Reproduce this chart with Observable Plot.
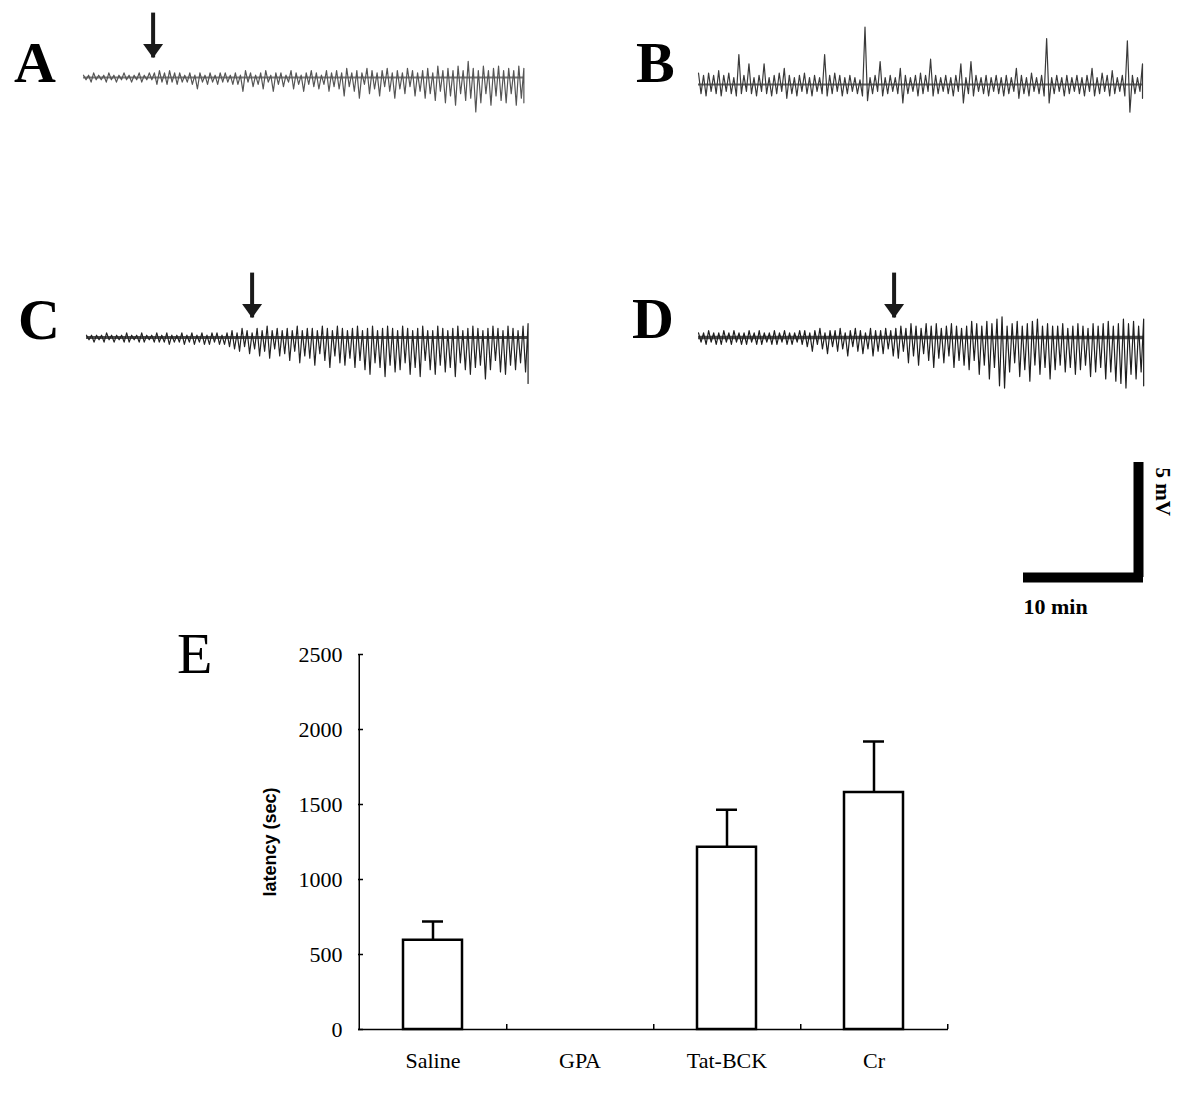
<!DOCTYPE html>
<html><head><meta charset="utf-8">
<script src="https://cdn.jsdelivr.net/npm/d3@7"></script>
<script src="https://cdn.jsdelivr.net/npm/@observablehq/plot@0.6"></script>
<style>
body{margin:0;background:#fff;}
#fig{position:relative;width:1200px;height:1102px;background:#fff;overflow:hidden;}
.panel{position:absolute;}
</style></head><body><div id="fig"></div>
<script>
// ---------- DATA ----------
// EEG traces: upward / downward deflection (mV) of successive oscillations
const traceA_up = [0.1,0.1,0.2,0.1,0.1,0.2,0.1,0.1,0.2,0.1,0.1,0.2,0.1,0.2,
 0.2,0.3,0.2,0.3,0.2,0.2,
 0.1,0.2,0.1,0.2,0.1,0.2,0.1,0.2,0.2,0.1,
 0.2,0.1,0.3,0.2,0.1,0.2,0.3,0.1,0.2,0.2,0.1,0.3,0.2,0.1,0.2,0.3,0.2,0.1,0.3,0.2,
 0.3,0.2,0.4,0.2,0.3,0.2,0.4,0.3,0.2,0.3,0.4,0.2,0.3,0.2,0.4,0.3,0.2,0.3,
 0.4,0.2,0.5,0.3,0.4,0.3,0.5,0.3,0.7,0.4,0.3,0.5,0.3,0.4,0.5,0.3,0.4,0.3,0.5,0.4];
const traceA_down = [0.1,0.2,0.1,0.1,0.2,0.1,0.2,0.1,0.1,0.2,0.1,0.2,0.1,0.1,
 0.3,0.2,0.3,0.2,0.3,0.2,
 0.2,0.3,0.5,0.2,0.3,0.2,0.3,0.2,0.2,0.3,
 0.3,0.6,0.2,0.4,0.3,0.5,0.2,0.6,0.3,0.4,0.2,0.5,0.3,0.6,0.3,0.4,0.5,0.3,0.6,0.4,
 0.5,0.8,0.4,0.6,0.9,0.3,0.7,0.5,0.8,0.4,0.6,0.9,0.5,0.7,0.4,0.8,0.6,0.9,
 0.7,1.0,0.6,1.1,0.8,1.2,0.7,1.0,0.9,1.5,1.1,0.7,1.2,0.8,1.0,1.1,0.7,1.2,0.9,1.1];

const traceB_up = [0.5,0.4,0.5,0.4,0.6,0.4,0.5,0.3,1.3,0.4,
 0.9,0.3,0.4,0.9,0.3,0.4,0.5,0.7,0.4,0.3,
 0.4,0.5,0.3,0.4,0.3,1.3,0.4,0.5,0.4,0.3,
 0.4,0.3,0.2,2.5,0.3,0.4,1.0,0.3,0.4,0.3,
 0.7,0.4,0.3,0.4,0.5,0.4,1.1,0.4,0.3,0.4,
 0.3,0.4,0.9,0.3,1.0,0.4,0.3,0.4,0.3,0.4,
 0.3,0.4,0.3,0.7,0.4,0.3,0.5,0.3,0.4,2.0,
 0.3,0.4,0.3,0.4,0.3,0.4,0.3,0.4,0.7,0.3,
 0.5,0.4,0.6,0.3,0.4,1.9,0.4,0.3,0.9];
const traceB_down = [0.4,0.5,0.3,0.4,0.5,0.3,0.4,0.5,0.4,0.3,
 0.4,0.5,0.3,0.4,0.5,0.4,0.3,0.6,0.4,0.5,
 0.3,0.4,0.5,0.3,0.4,0.5,0.4,0.3,0.5,0.4,
 0.3,0.4,0.5,0.7,0.4,0.3,0.5,0.4,0.3,0.4,
 0.8,0.4,0.3,0.5,0.4,0.3,0.5,0.4,0.3,0.4,
 0.5,0.3,0.8,0.4,0.5,0.3,0.4,0.5,0.3,0.4,
 0.5,0.4,0.3,0.6,0.4,0.5,0.3,0.4,0.5,0.8,
 0.4,0.3,0.5,0.4,0.3,0.4,0.5,0.3,0.5,0.4,
 0.3,0.5,0.4,0.3,0.5,1.2,0.4,0.3,0.6];

const traceC_up = [0.1,0.1,0.1,0.1,0.2,0.1,0.1,0.1,0.2,0.1,0.1,0.2,0.1,0.1,0.2,0.1,0.2,0.1,0.1,0.2,0.1,0.2,0.1,0.2,0.1,0.2,0.2,0.1,0.2,
 0.3,0.2,0.4,0.3,0.2,0.4,0.3,0.5,0.3,0.4,
 0.3,0.4,0.3,0.5,0.3,0.4,0.4,0.3,0.5,0.4, 0.3,0.5,0.4,0.3,0.4,0.5,0.3,0.4,0.5,0.3,
 0.4,0.5,0.4,0.3,0.5,0.4,0.3,0.4,0.5,0.3, 0.3,0.5,0.4,0.3,0.4,0.5,0.3,0.4,0.5,0.4,
 0.3,0.4,0.5,0.4,0.3,0.5,0.4,0.3,0.5,0.6];
const traceC_down = [0.1,0.2,0.1,0.2,0.1,0.2,0.1,0.2,0.2,0.1,0.2,0.2,0.1,0.2,0.2,0.2,0.3,0.2,0.2,0.3,0.2,0.3,0.2,0.3,0.3,0.2,0.3,0.3,0.4,
 0.5,0.6,0.4,0.7,0.5,0.8,0.6,0.9,0.5,0.8,
 0.7,1.0,0.6,1.1,0.8,0.9,1.2,0.7,1.0,1.3,0.8,1.1,1.2,0.9,
 1.3,1.0,1.4,1.6,1.1,1.3,1.7,1.2,1.5,1.4,1.1,1.6,1.3,1.7,1.0,1.4,1.6,1.2,1.5,1.3,1.7,1.1,1.4,1.6,1.3,1.2,1.8,1.4,1.0,1.5,1.6,1.2,1.4,1.1,1.5,2.0];

const traceD_up = [0.2,0.2,0.3,0.2,0.2,0.3,0.2,0.3,0.2,0.2,0.3,0.2,0.3,0.2,0.2,0.3,0.2,0.3,0.2,0.2,0.3,
 0.3,0.2,0.3,0.4,0.2,0.3,0.3,0.4,0.2,0.3,0.4,0.3,0.2,0.4,0.3,0.3,0.4,0.3,
 0.4,0.5,0.4,0.6,0.5,0.4,0.6,0.5,0.6,0.4,0.5,0.6,0.5,0.4,
 0.5,0.7,0.6,0.5,0.7,0.6,0.8,0.9,0.5,0.6,0.7,0.5,0.6,0.7,0.8,0.5,0.6,0.5,
 0.5,0.6,0.4,0.5,0.6,0.5,0.4,0.6,0.5,0.6,0.7,0.5,0.6,0.8,0.6,0.7,0.5,0.8];
const traceD_down = [0.2,0.3,0.2,0.3,0.3,0.2,0.3,0.2,0.3,0.3,0.2,0.3,0.3,0.2,0.3,0.3,0.2,0.3,0.3,0.2,0.3,
 0.4,0.6,0.3,0.5,0.7,0.4,0.6,0.5,0.8,0.4,0.6,0.7,0.5,0.8,0.6,0.7,0.5,0.8,
 0.9,0.6,1.1,0.8,1.2,0.7,1.0,1.3,0.9,1.1,0.8,1.3,1.0,1.2,
 1.4,1.0,1.6,1.2,1.8,1.3,2.1,2.2,1.5,1.1,1.7,1.4,1.9,1.2,1.6,1.3,1.8,1.4,
 1.2,1.5,1.3,1.6,1.4,1.2,1.7,1.5,1.3,1.8,1.5,1.9,2.0,2.2,1.6,1.8,1.5,2.1];

const traceMinutes = {A: 36.7, B: 37.0, C: 36.8, D: 37.1};
// time of the injection arrow (min from trace start)
const arrowMinute = {A: 5.8, C: 13.8, D: 16.3};
const arrowTopMV = 2.8, arrowTipMV = 0.85;

// scale bar
const scaleBarMin = 10, scaleBarMV = 5;

// panel E
const groups  = ["Saline", "GPA", "Tat-BCK", "Cr"];
const latency = [595, 0, 1215, 1580];
const sem     = [125, 0, 250, 340];
const latencyTicks = [0, 500, 1000, 1500, 2000, 2500];

// ---------- LAYOUT ----------
const PX_PER_MIN = 12, PX_PER_MV = 23;
const Y_MIN = -2.5, Y_MAX = 3.0;
const fig = document.getElementById("fig");
const STYLE = "background: transparent; overflow: visible; max-width: none;";

function place(node, left, top) {
  const d = document.createElement("div");
  d.className = "panel";
  d.style.left = left + "px";
  d.style.top = top + "px";
  d.appendChild(node);
  fig.appendChild(d);
}

function samplesOf(up, down, minutes) {
  const dt = minutes / (up.length - 1);
  return up.map((u, i) => ({t: i * dt, up: u, down: down[i], dt}));
}
function zigzag(samples, minutes) {
  const pts = [];
  samples.forEach(s => {
    pts.push({t: s.t, v: s.up});
    pts.push({t: Math.min(s.t + s.dt / 2, minutes), v: -s.down});
  });
  return pts;
}

const arrowHead = {draw(ctx) { ctx.moveTo(-10, -14); ctx.lineTo(10, -14); ctx.lineTo(0, 0); ctx.closePath(); }};

function tracePlot(key, up, down, left, baseline, color, core) {
  const minutes = traceMinutes[key];
  const samples = samplesOf(up, down, minutes);
  const arrows = arrowMinute[key] != null ? [{t: arrowMinute[key], top: arrowTopMV, tip: arrowTipMV}] : [];
  const plot = Plot.plot({
    width: minutes * PX_PER_MIN,
    height: (Y_MAX - Y_MIN) * PX_PER_MV,
    margin: 0,
    style: STYLE,
    x: {domain: [0, minutes], axis: null},
    y: {domain: [Y_MIN, Y_MAX], axis: null},
    marks: [
      Plot.ruleY([0], {x1: 0, x2: minutes, stroke: color, strokeWidth: core, strokeOpacity: 0.8}),
      Plot.line(zigzag(samples, minutes), {x: "t", y: "v", stroke: color, strokeWidth: 1.2}),
      Plot.ruleX(arrows, {x: "t", y1: "tip", y2: "top", stroke: "#1a1a1a", strokeWidth: 4}),
      Plot.dot(arrows, {x: "t", y: "tip", symbol: arrowHead, fill: "#1a1a1a", stroke: "none", r: 6})
    ]
  });
  place(plot, left, baseline - Y_MAX * PX_PER_MV);
}

tracePlot("A", traceA_up, traceA_down, 83, 77, "#555", 2);
tracePlot("B", traceB_up, traceB_down, 698, 84, "#3a3a3a", 2);
tracePlot("C", traceC_up, traceC_down, 86, 337, "#222", 3);
tracePlot("D", traceD_up, traceD_down, 698, 337, "#1e1e1e", 3.5);

// scale bar
const scalePlot = Plot.plot({
  width: scaleBarMin * PX_PER_MIN,
  height: scaleBarMV * PX_PER_MV,
  margin: 0,
  style: STYLE,
  x: {domain: [0, scaleBarMin], axis: null},
  y: {domain: [0, scaleBarMV], axis: null},
  marks: [
    Plot.ruleY([0], {x1: 0, x2: scaleBarMin, stroke: "#000", strokeWidth: 10}),
    Plot.ruleX([scaleBarMin], {y1: 0, y2: scaleBarMV, stroke: "#000", strokeWidth: 10, dx: -5}),
    Plot.text([`${scaleBarMin} min`], {x: 0, y: 0, dy: 29, textAnchor: "start", fontFamily: "Liberation Serif", fontWeight: "bold", fontSize: 22, fill: "#000"}),
    Plot.text([`${scaleBarMV} mV`], {x: scaleBarMin, y: scaleBarMV, dx: 19, dy: 5, rotate: 90, textAnchor: "start", fontFamily: "Liberation Serif", fontWeight: "bold", fontSize: 21, fill: "#000"})
  ]
});
place(scalePlot, 1023, 577 - scaleBarMV * PX_PER_MV);

// panel E bar chart
const bars = groups.map((g, i) => ({group: g, latency: latency[i], sem: sem[i]}));
const errBars = bars.filter(d => d.sem > 0);
const mL = 110, mR = 20, mT = 20, mB = 60, innerW = 590, innerH = 375;
const halfBand = innerW / groups.length / 2;
const serif = "Liberation Serif";
const barPlot = Plot.plot({
  width: mL + innerW + mR,
  height: mT + innerH + mB,
  marginLeft: mL, marginRight: mR, marginTop: mT, marginBottom: mB,
  style: STYLE,
  x: {domain: groups, padding: 0, label: null},
  y: {domain: [0, 2500], label: null},
  marks: [
    Plot.barY(bars, {x: "group", y: "latency", fill: "white", stroke: "#000", strokeWidth: 2.5, insetLeft: 44, insetRight: 44}),
    Plot.ruleX(errBars, {x: "group", y1: "latency", y2: d => d.latency + d.sem, stroke: "#000", strokeWidth: 2.5}),
    Plot.tickY(errBars, {x: "group", y: d => d.latency + d.sem, stroke: "#000", strokeWidth: 2.5, insetLeft: 63, insetRight: 63}),
    Plot.ruleY([0], {stroke: "#000", strokeWidth: 1.5}),
    Plot.ruleX([groups[0]], {dx: -halfBand, y1: 0, y2: 2500, stroke: "#000", strokeWidth: 1.5}),
    Plot.axisY({ticks: latencyTicks, tickFormat: d => String(d), tickSize: -5, tickPadding: 21, label: null, fontFamily: serif, fontSize: 22, stroke: "#000", strokeWidth: 1.5, fill: "#000"}),
    Plot.axisX({tickSize: 0, tickPadding: 23, label: null, fontFamily: serif, fontSize: 22, fill: "#000"}),
    Plot.axisX({tickSize: -5, dx: halfBand, tickFormat: () => "", label: null, stroke: "#000", strokeWidth: 1.5}),
    Plot.text(["latency (sec)"], {frameAnchor: "left", dx: -88, rotate: -90, textAnchor: "middle", fontFamily: "Liberation Sans", fontWeight: "bold", fontSize: 18, fill: "#000"})
  ]
});
place(barPlot, 358 - mL, 654 - mT);

// panel letters
const letters = [
  {t: "A", x: 14, y: 82, w: "bold"}, {t: "B", x: 636, y: 82, w: "bold"},
  {t: "C", x: 18, y: 339, w: "bold"}, {t: "D", x: 632, y: 338, w: "bold"},
  {t: "E", x: 177, y: 673, w: "normal"}
];
const svg = d3.create("svg").attr("width", 1200).attr("height", 1102)
  .style("position", "absolute").style("left", 0).style("top", 0).style("pointer-events", "none");
svg.selectAll("text").data(letters).join("text")
  .attr("x", d => d.x).attr("y", d => d.y)
  .attr("font-family", "Liberation Serif").attr("font-weight", d => d.w)
  .attr("font-size", 58).attr("fill", "#000").text(d => d.t);
fig.appendChild(svg.node());
</script></body></html>
